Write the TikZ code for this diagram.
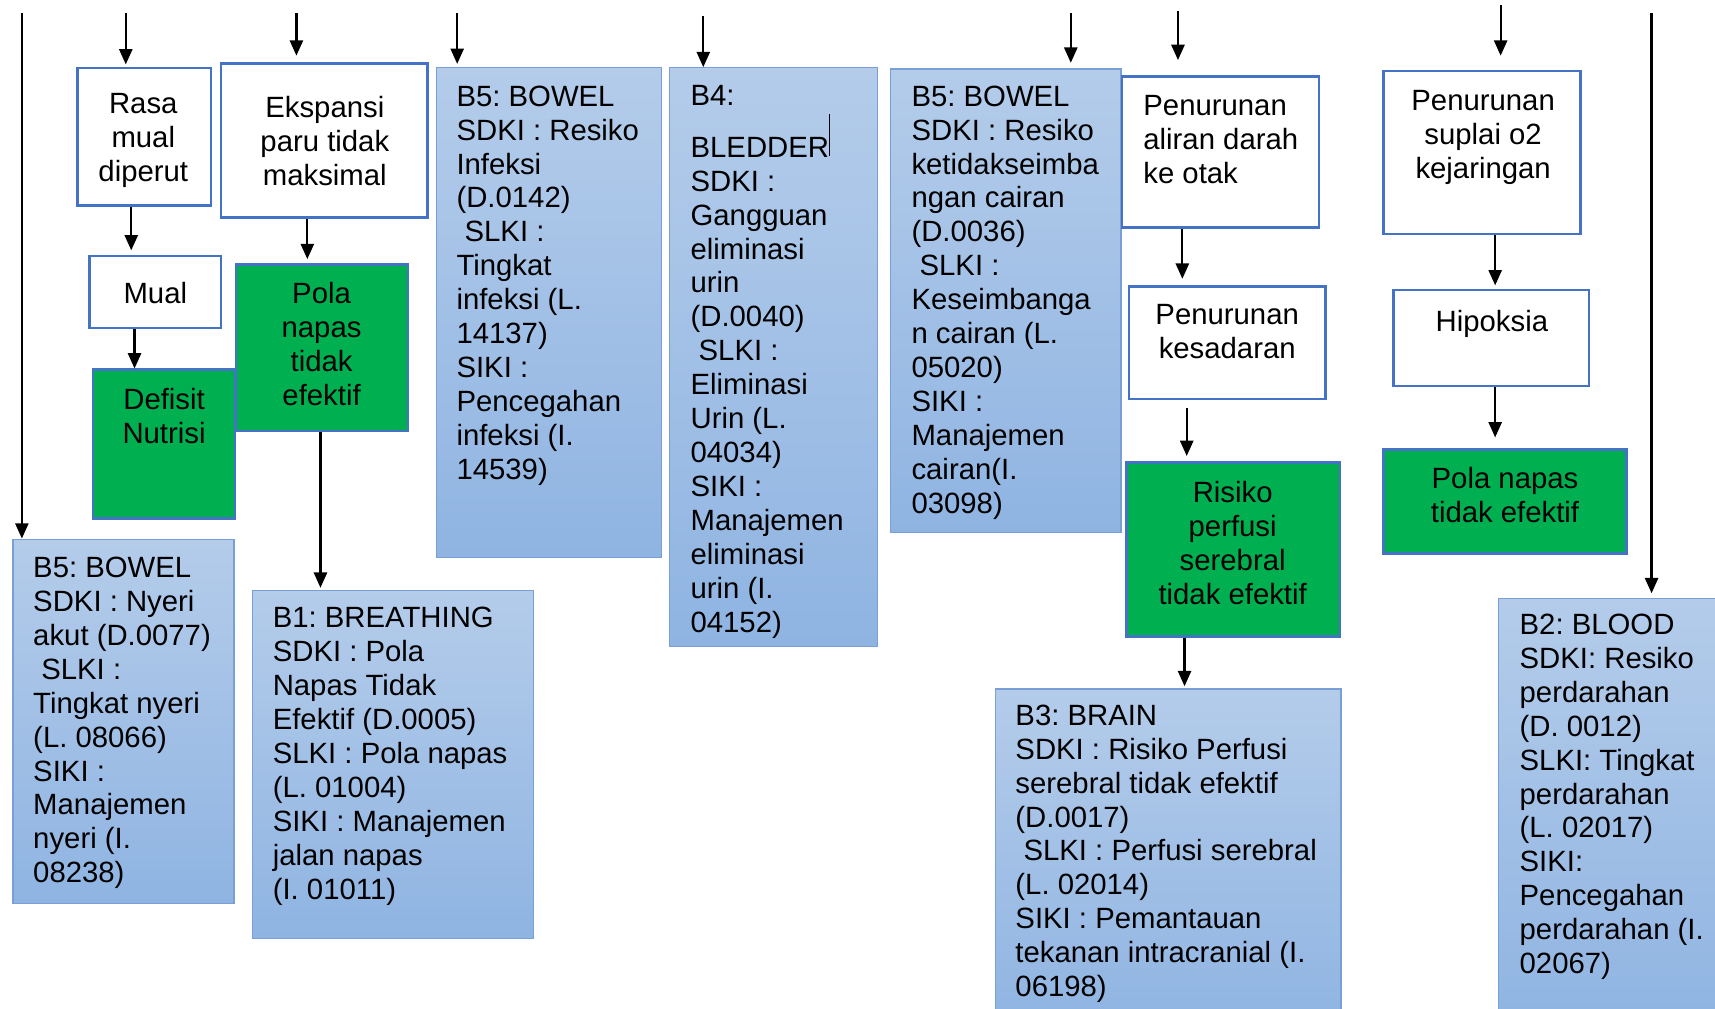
\documentclass[tikz,border=0pt]{standalone}
\usepackage{fontspec}
\setmainfont{Liberation Sans}
\usetikzlibrary{arrows.meta, positioning, fit}
\definecolor{bxline}{RGB}{68, 114, 196}
\definecolor{bxgreen}{RGB}{0, 176, 80}
\definecolor{grtop}{RGB}{180, 204, 234}
\definecolor{grbot}{RGB}{143, 180, 226}
\definecolor{grline}{RGB}{120, 160, 215}
\frenchspacing

\begin{document}
\begin{tikzpicture}[x=0.5pt, y=-0.5pt, >={Triangle[length=7pt, width=6pt]},
  whitebox/.style={draw=bxline, line width=1.1pt, fill=white, inner sep=0pt},
  greenbox/.style={draw=bxline, line width=1.1pt, fill=bxgreen, inner sep=0pt},
  sdkibox/.style={draw=grline, line width=0.6pt, top color=grtop, bottom color=grbot, inner sep=0pt},
  txt/.style={font=\fontsize{13.4pt}{15.5pt}\selectfont\frenchspacing, inner sep=0pt},
  txtl/.style={txt, anchor=north west, align=left},
  txtc/.style={txt, anchor=north, align=center},
  arr/.style={->, line width=1pt}]

  \useasboundingbox (0,0) rectangle (1568,922);
  \clip (0,0) rectangle (1568,922);

  % --- nausea branch ---
  \node[whitebox, fit={(71,62) (193,188)}] (rasa) {};
  \node[txtc] (rasa-t) at (131,85) {Rasa\\mual\\diperut};
  \node[whitebox, fit={(82,234) (202,300)}] (mual) {};
  \node[txtc] (mual-t) at (142,258) {Mual};
  \node[greenbox, fit={(85,338) (215,474)}] (defisit) {};
  \node[txtc] (defisit-t) at (150,355) {Defisit\\Nutrisi};

  % --- lung expansion branch ---
  \node[whitebox, fit={(202,58) (391,199)}] (ekspansi) {};
  \node[txtc] (ekspansi-t) at (297,88) {Ekspansi\\paru tidak\\maksimal};
  \node[greenbox, fit={(216,242) (373,394)}] (pola) {};
  \node[txtc] (pola-t) at (294,258) {Pola\\napas\\tidak\\efektif};

  % --- B5 bowel: pain ---
  \node[sdkibox, fit={(12,493) (214,826)}] (b5nyeri) {};
  \node[txtl] (b5nyeri-t) at (30,509)
    {B5: BOWEL\\SDKI : Nyeri\\akut (D.0077)\\\hspace*{3.7pt}SLKI :\\Tingkat nyeri\\(L. 08066)\\SIKI :\\Manajemen\\nyeri (I.\\08238)};

  % --- B1 breathing ---
  \node[sdkibox, fit={(231,540) (488,858)}] (b1) {};
  \node[txtl] (b1-t) at (249,555)
    {B1: BREATHING\\SDKI : Pola\\Napas Tidak\\Efektif (D.0005)\\SLKI : Pola napas\\(L. 01004)\\SIKI : Manajemen\\jalan napas\\(I. 01011)};

  % --- B5 bowel: infection ---
  \node[sdkibox, fit={(399,62) (605,510)}] (b5infeksi) {};
  \node[txtl] (b5infeksi-t) at (417,78)
    {B5: BOWEL\\SDKI : Resiko\\Infeksi\\(D.0142)\\\hspace*{3.7pt}SLKI :\\Tingkat\\infeksi (L.\\14137)\\SIKI :\\Pencegahan\\infeksi (I.\\14539)};

  % --- B4 bladder ---
  \node[sdkibox, fit={(612,62) (802,591)}] (b4) {};
  \node[txtl] (b4-t) at (631,78)
    {B4:\\[8pt]BLEDDER\\SDKI :\\Gangguan\\eliminasi\\urin\\(D.0040)\\\hspace*{3.7pt}SLKI :\\Eliminasi\\Urin (L.\\04034)\\SIKI :\\Manajemen\\eliminasi\\urin (I.\\04152)};
  \draw[line width=0.5pt] (758,104) -- (758,143);

  % --- B5 bowel: fluid ---
  \node[sdkibox, fit={(814,63) (1025,487)}] (b5cairan) {};
  \node[txtl] (b5cairan-t) at (833,78)
    {B5: BOWEL\\SDKI : Resiko\\ketidakseimba\\ngan cairan\\(D.0036)\\\hspace*{3.7pt}SLKI :\\Keseimbanga\\n cairan (L.\\05020)\\SIKI :\\Manajemen\\cairan(I.\\03098)};

  % --- brain branch ---
  \node[whitebox, fit={(1026,70) (1206,208)}] (aliran) {};
  \node[txtl] (aliran-t) at (1045,87) {Penurunan\\aliran darah\\ke otak};
  \node[whitebox, fit={(1032,262) (1212,365)}] (kesadaran) {};
  \node[txtc] (kesadaran-t) at (1122,278) {Penurunan\\kesadaran};
  \node[greenbox, fit={(1030,423) (1225,582)}] (risiko) {};
  \node[txtc] (risiko-t) at (1127,440) {Risiko\\perfusi\\serebral\\tidak efektif};
  \node[sdkibox, fit={(910,630) (1226,940)}] (b3) {};
  \node[txtl] (b3-t) at (928,644)
    {B3: BRAIN\\SDKI : Risiko Perfusi\\serebral tidak efektif\\(D.0017)\\\hspace*{3.7pt}SLKI : Perfusi serebral\\(L. 02014)\\SIKI : Pemantauan\\tekanan intracranial (I.\\06198)};

  % --- oxygen branch ---
  \node[whitebox, fit={(1265,65) (1445,214)}] (suplai) {};
  \node[txtc] (suplai-t) at (1356,82) {Penurunan\\suplai o2\\kejaringan};
  \node[whitebox, fit={(1274,265) (1453,353)}] (hipoksia) {};
  \node[txtc] (hipoksia-t) at (1364,283) {Hipoksia};
  \node[greenbox, fit={(1265,411) (1487,506)}] (pola2) {};
  \node[txtc] (pola2-t) at (1376,427) {Pola napas\\tidak efektif};

  % --- B2 blood ---
  \node[sdkibox, fit={(1370,547) (1590,940)}] (b2) {};
  \node[txtl] (b2-t) at (1389,561)
    {B2: BLOOD\\SDKI: Resiko\\perdarahan\\(D. 0012)\\SLKI: Tingkat\\perdarahan\\(L. 02017)\\SIKI:\\Pencegahan\\perdarahan (I.\\02067)};

  % --- incoming arrows from above ---
  \coordinate (in1) at (20,12);
  \coordinate (in2) at (115,12);
  \coordinate (in3) at (271,12);
  \coordinate (in4) at (418,12);
  \coordinate (in5) at (643,15);
  \coordinate (in6) at (979,12);
  \coordinate (in7) at (1077,10);
  \coordinate (in8) at (1372,5);
  \coordinate (in9) at (1510,12);
  \draw[arr] (in1) -- (in1 |- b5nyeri.north);
  \draw[arr, shorten >=1pt] (in2) -- (in2 |- rasa.north);
  \draw[arr, shorten >=3pt] (in3) -- (in3 |- ekspansi.north);
  \draw[arr, shorten >=1.5pt] (in4) -- (in4 |- b5infeksi.north);
  \draw[arr] (in5) -- (in5 |- b4.north);
  \draw[arr, shorten >=2.5pt] (in6) -- (in6 |- b5cairan.north);
  \draw[arr, shorten >=7pt] (in7) -- (in7 |- aliran.north);
  \draw[arr, shorten >=6.5pt] (in8) -- (in8 |- suplai.north);
  \draw[arr, shorten >=2pt] (in9) -- (in9 |- b2.north);

  % --- arrows between boxes ---
  \draw[arr, shorten >=2pt] (120,0 |- rasa.south) -- (120,0 |- mual.north);
  \draw[arr] (123,0 |- mual.south) -- (123,0 |- defisit.north);
  \draw[arr, shorten >=2pt] (281,0 |- ekspansi.south) -- (281,0 |- pola.north);
  \draw[arr, shorten >=1pt] (293,0 |- pola.south) -- (293,0 |- b1.north);
  \draw[arr, shorten >=3pt] (1081,0 |- aliran.south) -- (1081,0 |- kesadaran.north);
  \draw[arr, shorten <=3.5pt, shorten >=2.5pt] (1085,0 |- kesadaran.south) -- (1085,0 |- risiko.north);
  \draw[arr, shorten >=1pt] (1083,0 |- risiko.south) -- (1083,0 |- b3.north);
  \draw[arr, shorten >=1.5pt] (1367,0 |- suplai.south) -- (1367,0 |- hipoksia.north);
  \draw[arr, shorten >=5pt] (1367,0 |- hipoksia.south) -- (1367,0 |- pola2.north);

\end{tikzpicture}
\end{document}
